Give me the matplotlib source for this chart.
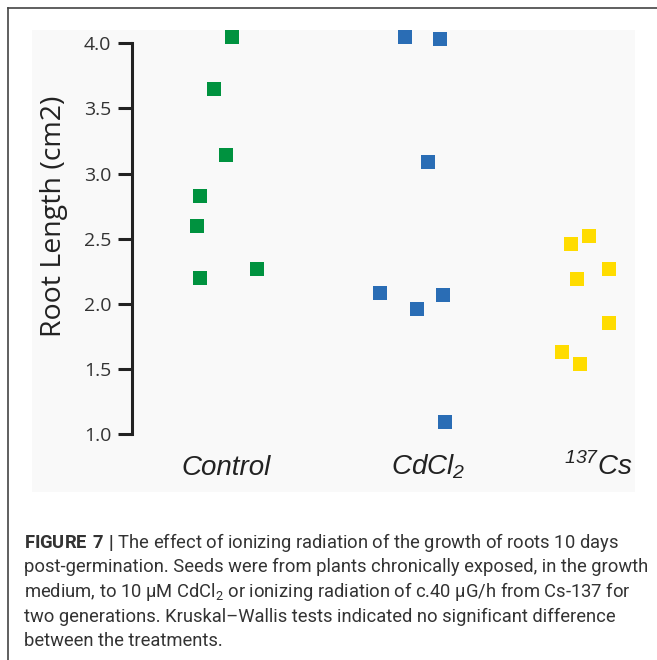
# root length scatter, fig 7 remake
import numpy as np
import matplotlib
matplotlib.use('Agg')
from matplotlib import pyplot as plt
from matplotlib.patches import Rectangle
from matplotlib.lines import Line2D

plt.rcParams['mathtext.fontset'] = 'custom'
plt.rcParams['mathtext.rm'] = 'Roboto'
plt.rcParams['mathtext.sf'] = 'Liberation Sans:italic'
plt.rcParams['mathtext.bf'] = 'Roboto:bold'

#data
groups = ['Control', 'CdCl2', '137Cs']
group_labels = [r'Control', r'$\mathsf{CdCl_2}$', r'$^{\mathsf{137}}\mathsf{Cs}$']
label_x = [1.0, 2.09, 3.0]
colors = ['#00923f', '#2a6db5', '#ffdc00']

ctrl_y = [4.05, 3.65, 3.14, 2.83, 2.60, 2.20, 2.27]
ctrl_jit = [0.031, -0.065, 0.0, -0.141, -0.158, -0.141, 0.168]
cd_y = [4.05, 4.03, 3.09, 2.085, 1.96, 2.07, 1.094]
cd_jit = [-0.038, 0.149, 0.088, -0.172, 0.025, 0.165, 0.179]
cs_y = [2.46, 2.52, 2.19, 2.27, 1.855, 1.63, 1.54]
cs_jit = [-0.145, -0.05, -0.115, 0.058, 0.058, -0.192, -0.097]

yticks = [1.0, 1.5, 2.0, 2.5, 3.0, 3.5, 4.0]

caption = [r'$\bf{FIGURE\ 7\ |}$ The effect of ionizing radiation of the growth of roots 10 days',
           'post-germination. Seeds were from plants chronically exposed, in the growth',
           r'medium, to 10 μM CdCl$_\mathrm{2}$ or ionizing radiation of c.40 μG/h from Cs-137 for',
           'two generations. Kruskal\u2013Wallis tests indicated no significant difference',
           'between the treatments.']

W, H = 657, 660
fig = plt.figure(figsize=(W/100, H/100), dpi=100)
fig.patch.set_facecolor('white')

# grey panel + outer frame
fig.add_artist(Rectangle((32/W, 1-492/H), 603/W, 462/H, transform=fig.transFigure,
                         facecolor='#f9f9f9', edgecolor='none', zorder=0))
fig.add_artist(Line2D([8/W, 1], [1-8/H, 1-8/H], transform=fig.transFigure, color='#444444', lw=1.2))
fig.add_artist(Line2D([8/W, 8/W], [0, 1-8/H], transform=fig.transFigure, color='#444444', lw=1.2))

ax = fig.add_axes([132/W, 1-450/H, 503/W, 420/H])
ax.patch.set_alpha(0)

all_y = [ctrl_y, cd_y, cs_y]
all_jit = [ctrl_jit, cd_jit, cs_jit]
for i in range(3):
    x = (i+1) + np.array(all_jit[i])
    ax.plot(x, all_y[i], linestyle='none', marker='s', markersize=10, color=colors[i],
            markeredgewidth=0, clip_on=False, zorder=3)

ax.set_xlim(0.495, 3.199)
ax.set_ylim(0.877, 4.102)
for s in ['top', 'right', 'bottom']:
    ax.spines[s].set_visible(False)
ax.spines['left'].set_bounds(1.0, 4.0)
ax.spines['left'].set_linewidth(2.2)
ax.spines['left'].set_color('#222222')
ax.set_xticks([])
ax.set_yticks(yticks)
ax.set_yticklabels(['%.1f' % t for t in yticks], fontfamily='Open Sans', fontsize=14, color='#333333')
ax.tick_params(axis='y', length=10, width=2.2, color='#222222', pad=5)
ax.set_ylabel('Root Length (cm2)', fontfamily='Open Sans', fontsize=20.5, color='#222222')
ax.yaxis.set_label_coords(-0.128, 0.557)

for i in range(3):
    ax.text(label_x[i], -0.0595, group_labels[i], transform=ax.get_xaxis_transform(),
            ha='center', va='baseline', fontsize=20, style='italic',
            fontfamily='Liberation Sans', color='#222222')

for k, line in enumerate(caption):
    fig.text(24/W, 1-(548+24.5*k)/H, line, ha='left', va='baseline', fontsize=13.2,
             fontfamily='Roboto', color='#333333')

plt.savefig('out.png', dpi=100)
